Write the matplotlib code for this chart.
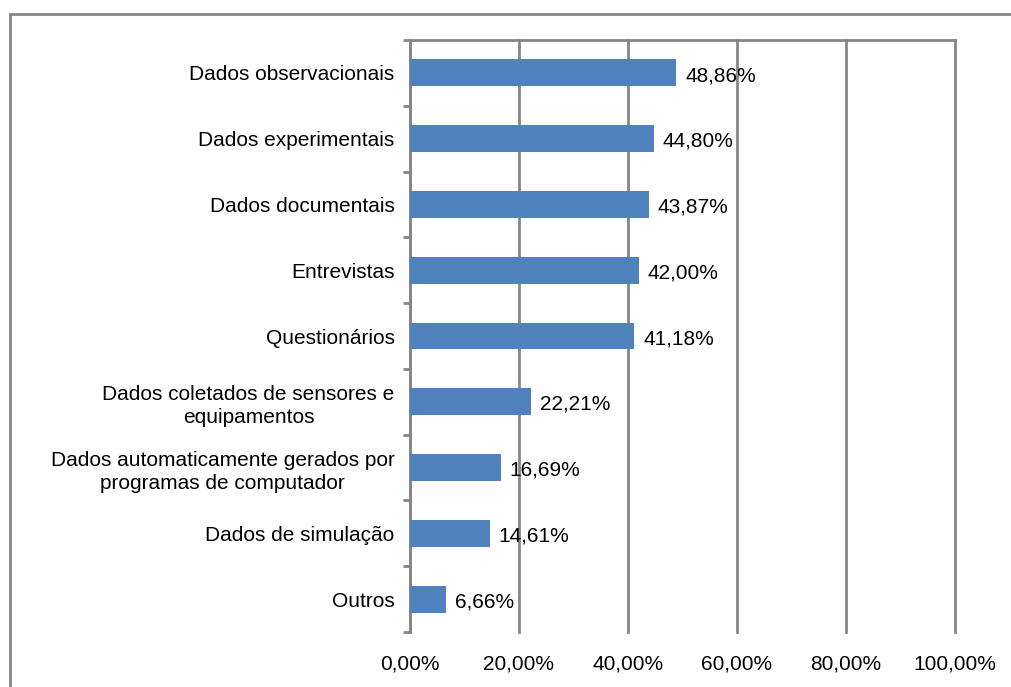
import matplotlib.pyplot as plt
from matplotlib.patches import Rectangle

# Data
categories = [
    'Dados observacionais',
    'Dados experimentais',
    'Dados documentais',
    'Entrevistas',
    'Questionários',
    'Dados coletados de sensores e\nequipamentos',
    'Dados automaticamente gerados por\nprogramas de computador',
    'Dados de simulação',
    'Outros',
]
values = [48.86, 44.80, 43.87, 42.00, 41.18, 22.21, 16.69, 14.61, 6.66]
x_ticks = [0, 20, 40, 60, 80, 100]

plt.rcParams['font.family'] = ['Liberation Sans', 'DejaVu Sans']

grid_color = '#868686'
bar_color = '#4F81BD'

fig = plt.figure(figsize=(10.12, 6.87), dpi=100)
ax = fig.add_axes([410 / 1012, 1 - 632 / 687, 545 / 1012, 592 / 687])

# Outer chart frame (runs off the right and bottom edges)
frame = Rectangle((10 / 1012, -0.1), 1.2, 1 - 14 / 687 + 0.1,
                  transform=fig.transFigure, fill=False,
                  edgecolor=grid_color, linewidth=2, clip_on=False)
fig.patches.append(frame)

y_pos = list(range(len(categories)))
ax.barh(y_pos, values, height=0.41, color=bar_color, zorder=3)

for y, v in zip(y_pos, values):
    ax.text(v + 1.6, y + 0.04, f'{v:.2f}%'.replace('.', ','), va='center',
            ha='left', fontsize=15, color='black', zorder=4)

ax.set_ylim(len(categories) - 0.5, -0.5)
ax.set_xlim(0, 100)

ax.set_yticks(y_pos)
ax.set_yticklabels(categories, fontsize=15, linespacing=1.3,
                   ha='right', multialignment='center')
ax.tick_params(axis='y', which='major', length=0, pad=11)
ax.set_yticks([i - 0.5 for i in range(len(categories) + 1)], minor=True)
ax.tick_params(axis='y', which='minor', length=5, width=2, color=grid_color,
               direction='out')

ax.set_xticks(x_ticks)
ax.set_xticklabels([f'{t:.2f}%'.replace('.', ',') for t in x_ticks], fontsize=15)
ax.tick_params(axis='x', length=0, pad=16)

ax.grid(axis='x', color=grid_color, linewidth=2, zorder=0)
for gl in ax.get_xgridlines():
    gl.set_clip_on(False)
ax.set_axisbelow(True)

for side in ['right', 'bottom']:
    ax.spines[side].set_visible(False)
for side in ['left', 'top']:
    ax.spines[side].set_color(grid_color)
    ax.spines[side].set_linewidth(2)

plt.savefig('out.png', dpi=100)
